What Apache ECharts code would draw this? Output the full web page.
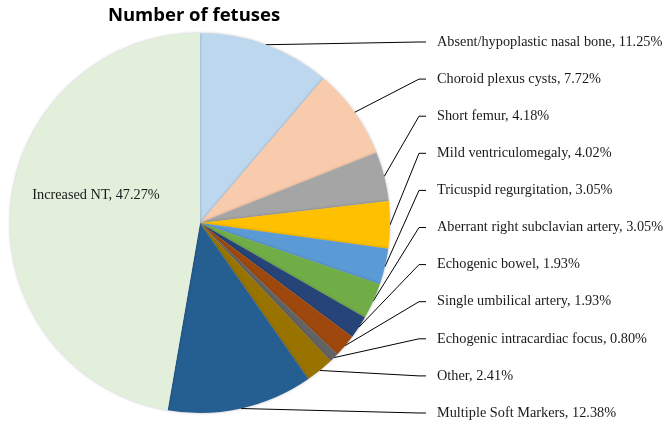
<!DOCTYPE html>
<html>
<head>
<meta charset="utf-8">
<script src="https://cdn.jsdelivr.net/npm/echarts@6/dist/echarts.min.js"></script>
<style>
  html, body { margin: 0; padding: 0; background: #fff; }
  #chart { width: 669px; height: 422px; }
</style>
</head>
<body>
<div id="chart"></div>
<script>
// slices clockwise from 12 o'clock
const categories = [
  'Absent/hypoplastic nasal bone',
  'Choroid plexus cysts',
  'Short femur',
  'Mild ventriculomegaly',
  'Tricuspid regurgitation',
  'Aberrant right subclavian artery',
  'Echogenic bowel',
  'Single umbilical artery',
  'Echogenic intracardiac focus',
  'Other',
  'Multiple Soft Markers',
  'Increased NT'
]
const percents = [11.25, 7.72, 4.18, 4.02, 3.05, 3.05, 1.93, 1.93, 0.80, 2.41, 12.38, 47.27]
const sliceColors = ['#bdd7ee', '#f8cbad', '#a5a5a5', '#ffc000', '#5b9bd5', '#70ad47',
                     '#264478', '#9e480e', '#636363', '#997300', '#255e91', '#e2efda']

const labelX = 426,
      labelTop = 42,
      labelGap = 37.1

const chart = echarts.init(document.getElementById('chart'))

const pieData = categories.map((name, i) => {
  let item = { name: name, value: percents[i], itemStyle: { color: sliceColors[i] } }
  if (name === 'Increased NT') {
    item.label = {
      position: 'inside',
      formatter: p => p.name + ', ' + p.value.toFixed(2) + '%'
    }
    item.labelLine = { show: false }
  }
  return item
})

const option = {
  animation: false,
  title: {
    text: 'Number of fetuses',
    left: 189,
    top: 1,
    textAlign: 'center',
    textStyle: {
      fontFamily: 'Open Sans',
      fontWeight: 'bold',
      fontSize: 18.5,
      color: '#000'
    }
  },
  series: [{
    type: 'pie',
    center: [200, 223],
    radius: 190,
    startAngle: 90,
    clockwise: true,
    data: pieData,
    itemStyle: {
      borderWidth: 0,
      shadowBlur: 3,
      shadowColor: 'rgba(0,0,0,0.25)'
    },
    label: {
      show: true,
      // leading spacer keeps a gap between the leader line and the text
      formatter: p => '{gap|}' + p.name + ', ' + p.value.toFixed(2) + '%',
      fontFamily: 'Liberation Serif',
      fontSize: 14.3,
      color: '#1a1a1a',
      rich: {
        gap: { width: 11 }
      }
    },
    labelLine: {
      show: true,
      length: 10,
      length2: 7,
      lineStyle: { color: '#000', width: 1 }
    },
    labelLayout: function (params) {
      const i = params.dataIndex
      if (i === categories.length - 1) {
        return { x: 96, y: 195, align: 'center', verticalAlign: 'middle' }
      }
      return { x: labelX, y: labelTop + i * labelGap, align: 'left', verticalAlign: 'middle' }
    }
  }]
}

chart.setOption(option)
</script>
</body>
</html>
